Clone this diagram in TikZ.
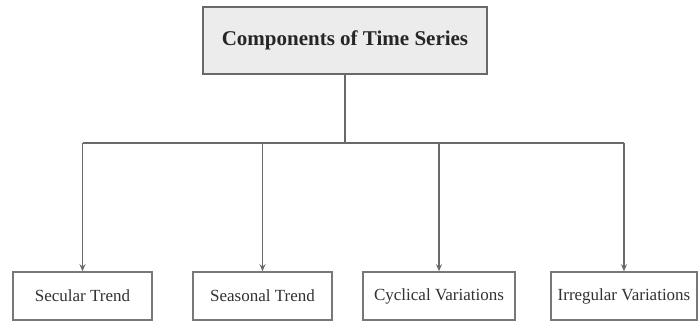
\documentclass[tikz,border=0pt]{standalone}
\usepackage{fontspec}
\setmainfont{Liberation Serif}
\usepackage{tikz}
\usetikzlibrary{positioning,arrows.meta}
\definecolor{linegray}{RGB}{105, 105, 105}
\definecolor{boxgray}{RGB}{120, 120, 120}
\definecolor{titlefill}{RGB}{236, 236, 236}
\definecolor{textgray}{RGB}{50, 50, 50}

\begin{document}
\begin{tikzpicture}[
    x=1pt, y=-1pt,
    titlebox/.style={rectangle, draw=linegray, line width=1.6pt, fill=titlefill,
                     minimum width=284pt, minimum height=67pt, font=\fontsize{21}{23}\selectfont\bfseries,
                     text=black!85},
    compbox/.style={rectangle, draw=boxgray, line width=1.6pt, fill=white,
                    minimum height=48pt, font=\fontsize{17}{19}\selectfont, text=textgray},
    link/.style={draw=linegray, line width=1.3pt},
    arrow/.style={link, -{Stealth[length=7pt, width=6pt]}}
]
    \useasboundingbox (0,0) rectangle (698,323);

    % Title
    \node[titlebox] (title) at (345,40.5) {Components of Time Series};

    % Components (bottom row)
    \node[compbox, minimum width=139pt] (secular)   at (82.5,296) {Secular Trend};
    \node[compbox, minimum width=139pt] (seasonal)  at (262.5,296) {Seasonal Trend};
    \node[compbox, minimum width=152pt] (cyclical)  at (439,296) {Cyclical Variations};
    \node[compbox, minimum width=146pt] (irregular) at (624,296) {Irregular Variations};

    % Branch line
    \coordinate (hub) at (345,143);
    \draw[link] (title.south) -- (hub);
    \draw[link] (hub -| secular) -- (hub -| irregular);

    % Arrows
    \draw[arrow] (hub -| secular)   -- (secular.north);
    \draw[arrow] (hub -| seasonal)  -- (seasonal.north);
    \draw[arrow] (hub -| cyclical)  -- (cyclical.north);
    \draw[arrow] (hub -| irregular) -- (irregular.north);
\end{tikzpicture}
\end{document}
